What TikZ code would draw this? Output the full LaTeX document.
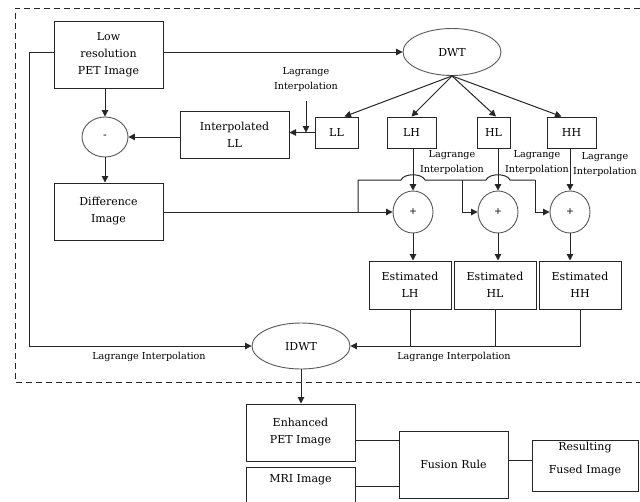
\documentclass[tikz,border=0pt]{standalone}
\usepackage{fontspec}
\setmainfont{DejaVu Serif}
\usetikzlibrary{arrows.meta,shapes.geometric}
\begin{document}
\begin{tikzpicture}[x=1pt,y=-1pt,
  ln/.style={draw=black!85,line width=1pt},
  arr/.style={-{Triangle[length=6.5pt,width=6.5pt]}},
  box/.style={draw=black!85,line width=1pt,inner sep=0pt,align=center,font=\fontsize{11}{17}\selectfont},
  txt/.style={inner sep=0pt,align=center,font=\fontsize{11}{17}\selectfont},
  ell/.style={draw=black!65,line width=0.9pt,ellipse,inner sep=0pt,font=\fontsize{11}{17}\selectfont},
  lab/.style={inner sep=0pt,align=center,font=\fontsize{9.6}{15}\selectfont}
]
\useasboundingbox (0,0) rectangle (640,501);
\fill[white] (0,0) rectangle (640,501);

% dashed frame
\draw[black!85,line width=1pt,dash pattern=on 6pt off 4pt] (640,8) -- (15,8) -- (15,382) -- (640,382);

% nodes
\node[box,minimum width=109pt,minimum height=67pt] (low) at (108.5,54.5) {Low\\resolution\\PET Image};
\node[ell,minimum width=98pt,minimum height=47pt] (dwt) at (452,52) {DWT};
\node[ell,minimum width=46pt,minimum height=40pt] (minus) at (105,137) {-};
\node[box,minimum width=109pt,minimum height=47pt] (interp) at (234.5,134.5) {Interpolated\\LL};
\node[box,minimum width=43pt,minimum height=31pt] (LL) at (336.5,132.5) {LL};
\node[box,minimum width=49pt,minimum height=31pt] (LH) at (411.5,132.5) {LH};
\node[box,minimum width=33pt,minimum height=31pt] (HL) at (493.5,132.5) {HL};
\node[box,minimum width=49pt,minimum height=31pt] (HH) at (571.5,132.5) {HH};
\node[box,minimum width=109pt,minimum height=57pt] (diff) at (108.5,211.5) {Difference\\Image};
\node[ell,minimum width=40pt,minimum height=42pt,font=\fontsize{9.5}{11}\selectfont] (plus1) at (413,212) {+};
\node[ell,minimum width=40pt,minimum height=42pt,font=\fontsize{9.5}{11}\selectfont] (plus2) at (498,212) {+};
\node[ell,minimum width=40pt,minimum height=42pt,font=\fontsize{9.5}{11}\selectfont] (plus3) at (570,212) {+};
\node[box,minimum width=82pt,minimum height=48pt] (estLH) at (410,285) {Estimated\\LH};
\node[box,minimum width=82pt,minimum height=48pt] (estHL) at (495,285) {Estimated\\HL};
\node[box,minimum width=82pt,minimum height=48pt] (estHH) at (580,285) {Estimated\\HH};
\node[ell,minimum width=98pt,minimum height=46pt] (idwt) at (301,346) {IDWT};
\node[box,minimum width=109pt,minimum height=57pt] (enh) at (300.5,432.5) {Enhanced\\PET Image};
\node[box,minimum width=109pt,minimum height=38pt] (mri) at (300.5,486) {};
\node[txt] (mriT) at (300.5,480) {MRI Image};
\node[box,minimum width=109pt,minimum height=67pt] (fusion) at (453.5,464.5) {Fusion Rule};
\node[box,minimum width=106pt,minimum height=51pt] (result) at (585,465.5) {};
\node[txt,font=\fontsize{11}{23}\selectfont] (resultT) at (585,459) {Resulting\\Fused Image};

% labels
\node[lab] (lagLL) at (306,79) {Lagrange\\Interpolation};
\node[lab] (lagLH) at (452,162) {Lagrange\\Interpolation};
\node[lab] (lagHL) at (537,162) {Lagrange\\Interpolation};
\node[lab] (lagHH) at (605,164) {Lagrange\\Interpolation};
\node[lab] (lagL) at (149,357) {Lagrange Interpolation};
\node[lab] (lagR) at (454,357) {Lagrange Interpolation};

% connectors
\draw[ln,arr] (low.east |- dwt) -- (dwt.west);
\draw[ln,arr] (low.west |- dwt) -- ++(-24,0) |- (idwt.west);
\draw[ln,arr] (low.south -| minus) -- (minus.north);
\draw[ln,arr] (dwt.south) -- ([xshift=8pt]LL.north);
\draw[ln,arr] (dwt.south) -- (LH.north);
\draw[ln,arr] (dwt.south) -- ([xshift=2.5pt]HL.north);
\draw[ln,arr] (dwt.south) -- ([xshift=-10pt]HH.north);
\draw[ln,arr] (LL.west) -- (LL.west -| interp.east);
\draw[ln,arr] ([yshift=-10pt]lagLL.south) -- (lagLL.south |- LL.west);
\draw[ln,arr] (interp.west |- minus) -- (minus.east);
\draw[ln,arr] (minus.south) -- (minus.south |- diff.north);

\draw[ln,arr] (LH.south -| plus1) -- (plus1.north);
\draw[ln,arr] (HL.south -| plus2) -- (plus2.north);
\draw[ln,arr] (HH.south -| plus3) -- (plus3.north);

\coordinate (br) at (358,212);
\coordinate (t0) at (358,180);
\coordinate (t1) at (462,180);
\coordinate (t2) at (535,180);
\draw[ln,arr] (diff.east |- plus1) -- (plus1.west);
\draw[ln] (br) -- (t0) -- (401,180) .. controls (404,173) and (422,173) .. (425,180) -- (t1)
  -- (486,180) .. controls (489,173) and (507,173) .. (510,180) -- (t2);
\draw[ln,arr] (t1) |- (plus2.west);
\draw[ln,arr] (t2) |- (plus3.west);

\draw[ln,arr] (plus1.south) -- (plus1.south |- estLH.north);
\draw[ln,arr] (plus2.south) -- (plus2.south |- estHL.north);
\draw[ln,arr] (plus3.south) -- (plus3.south |- estHH.north);

\draw[ln,arr] (estHH.south) |- (idwt.east);
\draw[ln] (estLH.south) -- (estLH.south |- idwt.east);
\draw[ln] (estHL.south) -- (estHL.south |- idwt.east);

\draw[ln,arr] (idwt.south) -- (idwt.south |- enh.north);
\draw[ln] ([yshift=-7.5pt]enh.east) -- ++(44,0);
\draw[ln] (mri.east) -- (mri.east -| fusion.west);
\draw[ln] ([yshift=4pt]fusion.east) -- ([yshift=4pt]fusion.east -| result.west);
\end{tikzpicture}
\end{document}
